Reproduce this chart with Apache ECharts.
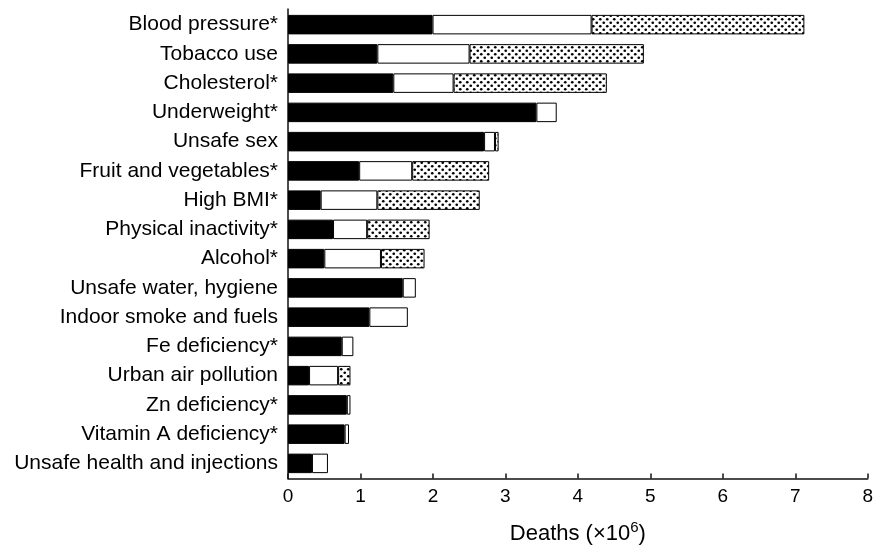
<!DOCTYPE html>
<html>
<head>
<meta charset="utf-8">
<script src="https://cdn.jsdelivr.net/npm/echarts@6/dist/echarts.min.js"></script>
<style>
html,body{margin:0;padding:0;background:#fff;}
#chart{width:876px;height:550px;}
</style>
</head>
<body>
<div id="chart"></div>
<script>
const categories = ["Blood pressure*","Tobacco use","Cholesterol*","Underweight*","Unsafe sex","Fruit and vegetables*","High BMI*","Physical inactivity*","Alcohol*","Unsafe water, hygiene","Indoor smoke and fuels","Fe deficiency*","Urban air pollution","Zn deficiency*","Vitamin A deficiency*","Unsafe health and injections"];
const blackSeg  = [1.99,1.23,1.45,3.42,2.70,0.98,0.45,0.62,0.50,1.58,1.12,0.74,0.29,0.81,0.78,0.33];
const whiteSeg  = [2.19,1.27,0.83,0.28,0.15,0.73,0.78,0.47,0.78,0.18,0.53,0.16,0.40,0.05,0.06,0.22];
const dottedSeg = [2.93,2.40,2.11,0,0.05,1.06,1.41,0.86,0.60,0,0,0,0.17,0,0,0];
const xTicks = [0,1,2,3,4,5,6,7,8];

function dotPattern(){
  const c = document.createElement('canvas');
  c.width = 7; c.height = 7;
  const g = c.getContext('2d');
  g.fillStyle = '#fff'; g.fillRect(0,0,7,7);
  g.fillStyle = '#000';
  [[1.75,1.75],[5.25,5.25]].forEach(p=>{g.beginPath();g.arc(p[0],p[1],1.35,0,Math.PI*2);g.fill();});
  return c;
}
const nz = a => a.map(v => v === 0 ? '-' : v);

const chart = echarts.init(document.getElementById('chart'), null, {renderer:'canvas'});
const font = '"Liberation Sans", Arial, Helvetica, sans-serif';
const barStyle = (color) => ({color: color, borderColor:'#000', borderWidth:1});
chart.setOption({
  animation:false,
  backgroundColor:'#fff',
  textStyle:{fontFamily:font},
  grid:[
    {left:288, right:7, top:10, bottom:72},
    {left:288, right:7, top:9, bottom:66}
  ],
  xAxis:[
    {gridIndex:0, type:'value', min:xTicks[0], max:xTicks[xTicks.length-1], show:false},
    {gridIndex:1, type:'value', min:xTicks[0], max:xTicks[xTicks.length-1], interval:1,
     axisLine:{show:true, lineStyle:{color:'#111', width:1.5}},
     axisTick:{show:true, inside:true, length:5, lineStyle:{color:'#111', width:1.5}},
     splitLine:{show:false},
     axisLabel:{color:'#000', fontSize:19, margin:9, fontFamily:font},
     name:'Deaths (×10{s|6})', nameLocation:'middle', nameGap:42,
     nameTextStyle:{color:'#000', fontSize:22, fontFamily:font,
       rich:{s:{fontSize:15, fontFamily:font, color:'#000', verticalAlign:'bottom', padding:[0,0,12,0]}}}}
  ],
  yAxis:[
    {gridIndex:0, type:'category', data:categories, inverse:true,
     axisLine:{show:false}, axisTick:{show:false}, splitLine:{show:false},
     axisLabel:{color:'#000', fontSize:21, margin:10, fontFamily:font}},
    {gridIndex:1, type:'value', min:0, max:1,
     axisLine:{show:true, lineStyle:{color:'#111', width:1.5}},
     axisTick:{show:false}, axisLabel:{show:false}, splitLine:{show:false}}
  ],
  series:[
    {type:'bar', xAxisIndex:0, yAxisIndex:0, stack:'t', barWidth:19.5, data:nz(blackSeg), itemStyle:barStyle('#000')},
    {type:'bar', xAxisIndex:0, yAxisIndex:0, stack:'t', barWidth:19.5, data:nz(whiteSeg), itemStyle:barStyle('#fff')},
    {type:'bar', xAxisIndex:0, yAxisIndex:0, stack:'t', barWidth:19.5, data:nz(dottedSeg), itemStyle:barStyle({image:dotPattern(), repeat:'repeat'})}
  ]
});
</script>
</body>
</html>
